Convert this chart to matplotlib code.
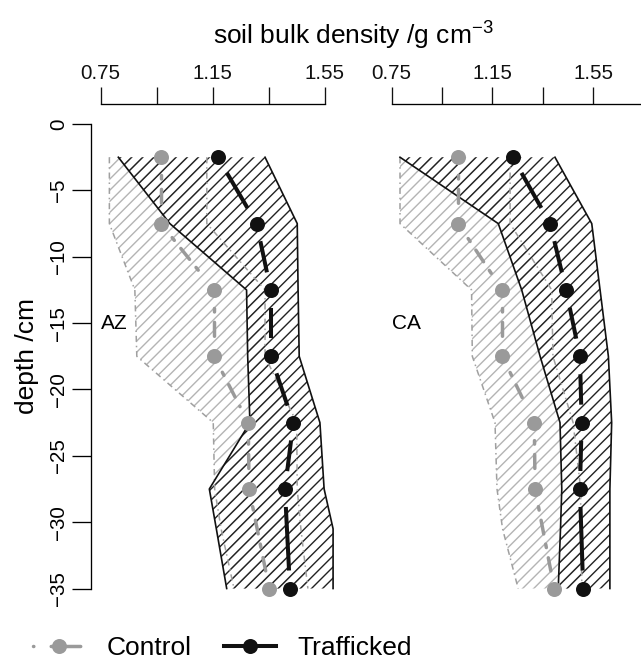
import numpy as np
import matplotlib
matplotlib.use('Agg')
import matplotlib.pyplot as plt
from matplotlib.lines import Line2D

plt.rcParams['font.family'] = ['Liberation Sans', 'DejaVu Sans']
plt.rcParams['mathtext.default'] = 'regular'
plt.rcParams['hatch.linewidth'] = 1.0

# depths of the sampled layers (cm) and of the range envelopes
DEPTH = [-2.5, -7.5, -12.5, -17.5, -22.5, -27.5, -35]
BOUND_DEPTH = [-2.5, -7.5, -12.5, -17.5, -22.5, -27.5, -30.5, -35]

# AZ site, mean bulk density
AZ_CONTROL = [0.965, 0.965, 1.155, 1.155, 1.277, 1.280, 1.352]
AZ_TRAFFIC = [1.168, 1.307, 1.357, 1.357, 1.438, 1.408, 1.426]
# AZ ranges
AZ_CONTROL_LO = [0.781, 0.781, 0.872, 0.879, 1.152, 1.157, 1.180, 1.226]
AZ_CONTROL_HI = [1.129, 1.129, 1.337, 1.337, 1.450, 1.452, 1.465, 1.490]
AZ_TRAFFIC_LO = [0.813, 0.997, 1.271, 1.275, 1.283, 1.138, 1.163, 1.200]
AZ_TRAFFIC_HI = [1.337, 1.452, 1.455, 1.459, 1.533, 1.548, 1.580, 1.580]

# CA site
CA_CONTROL = [1.014, 1.014, 1.189, 1.189, 1.316, 1.319, 1.395]
CA_TRAFFIC = [1.230, 1.379, 1.442, 1.497, 1.504, 1.497, 1.510]
CA_CONTROL_LO = [0.783, 0.783, 1.067, 1.070, 1.160, 1.168, 1.190, 1.252]
CA_CONTROL_HI = [1.220, 1.220, 1.385, 1.390, 1.470, 1.500, 1.500, 1.505]
CA_TRAFFIC_LO = [0.783, 1.173, 1.266, 1.339, 1.418, 1.425, 1.420, 1.411]
CA_TRAFFIC_HI = [1.398, 1.544, 1.577, 1.610, 1.623, 1.616, 1.616, 1.616]

X_TICKS = [0.75, 0.95, 1.15, 1.35, 1.55, 1.75]
X_TICK_LABELS = ['0.75', '', '1.15', '', '1.55', '']
Y_TICKS = [0, -5, -10, -15, -20, -25, -30, -35]

GRAY = '#9a9a9a'
LIGHT = '#b4b4b4'
BLACK = '#111111'
GAP = 18  # px left free around each point (type "b" lines)
DOTDASH = (0, (1, 3, 4, 3))
HATCH = '///'


def gapped_line(ax, x, y, **kw):
    pts = ax.transData.transform(np.column_stack([x, y]))
    inv = ax.transData.inverted()
    for p0, p1 in zip(pts[:-1], pts[1:]):
        d = p1 - p0
        length = np.hypot(*d)
        if length <= 2 * GAP:
            continue
        u = d / length
        a = inv.transform(p0 + u * GAP)
        b = inv.transform(p1 - u * GAP)
        ax.plot([a[0], b[0]], [a[1], b[1]], **kw)


def setup_axes(rect, xlim, n_ticks):
    ax = fig.add_axes(rect)
    ax.xaxis.set_ticks_position('top')
    ax.set_xticks(X_TICKS[:n_ticks])
    ax.set_xticklabels(X_TICK_LABELS[:n_ticks])
    ax.set_xlim(*xlim)
    ax.set_ylim(-36.5, 0.5)
    ax.set_autoscale_on(False)
    ax.spines['top'].set_position(('outward', 9.6))
    ax.spines['top'].set_linewidth(0.95)
    ax.spines['right'].set_visible(False)
    ax.spines['bottom'].set_visible(False)
    ax.tick_params(axis='x', direction='out', length=12.5, width=0.95,
                   labelsize=14.8, pad=3, colors='#111111')
    return ax


def draw_panel(ax, name, control, traffic, c_lo, c_hi, t_lo, t_hi):
    ax.fill_betweenx(BOUND_DEPTH, c_lo, c_hi, facecolor='none', edgecolor=LIGHT,
                     hatch=HATCH, linewidth=0, zorder=1)
    ax.fill_betweenx(BOUND_DEPTH, t_lo, t_hi, facecolor='none', edgecolor='#222222',
                     hatch=HATCH, linewidth=0, zorder=2)
    for b in (c_lo, c_hi):
        ax.plot(b, BOUND_DEPTH, color='#a0a0a0', lw=1.1,
                linestyle=(0, (4, 2.5, 1, 2.5)), zorder=3)
    for b in (t_lo, t_hi):
        ax.plot(b, BOUND_DEPTH, color=BLACK, lw=1.2, zorder=4)

    gapped_line(ax, control, DEPTH, color=GRAY, lw=2.5, linestyle=DOTDASH,
                dash_capstyle='round', zorder=5)
    gapped_line(ax, traffic, DEPTH, color=BLACK, lw=2.9, solid_capstyle='butt', zorder=6)
    ax.plot(control, DEPTH, 'o', color=GRAY, ms=10.8, mew=0, zorder=7)
    ax.plot(traffic, DEPTH, 'o', color=BLACK, ms=10.8, mew=0, zorder=8)

    ax.text(0.75, -15, name, ha='left', va='center', fontsize=15)


fig = plt.figure(figsize=(6.41, 6.68), dpi=100)

ax1 = setup_axes([0.1418, 0.0892, 0.4084, 0.7350], (0.715, 1.65), 5)
ax1.spines['top'].set_bounds(0.75, 1.55)
ax1.set_yticks(Y_TICKS)
ax1.set_yticklabels([str(v).replace('-', '\u2212') for v in Y_TICKS],
                    rotation=90, va='center')
ax1.set_ylim(-36.5, 0.5)
ax1.spines['left'].set_bounds(-35, 0)
ax1.spines['left'].set_linewidth(0.95)
ax1.tick_params(axis='y', direction='out', length=13.5, width=0.95,
                labelsize=14.8, pad=3)

ax2 = setup_axes([0.5973, 0.0892, 0.4265, 0.7350], (0.715, 1.80), 6)
ax2.spines['top'].set_bounds(0.75, 1.80)
ax2.spines['left'].set_visible(False)
ax2.set_yticks([])
ax2.set_ylim(-36.5, 0.5)

draw_panel(ax1, 'AZ', AZ_CONTROL, AZ_TRAFFIC,
           AZ_CONTROL_LO, AZ_CONTROL_HI, AZ_TRAFFIC_LO, AZ_TRAFFIC_HI)
draw_panel(ax2, 'CA', CA_CONTROL, CA_TRAFFIC,
           CA_CONTROL_LO, CA_CONTROL_HI, CA_TRAFFIC_LO, CA_TRAFFIC_HI)

fig.text(0.551, 1 - 45 / 668, 'soil bulk density /g cm$^{\u22123}$',
         ha='center', va='baseline', fontsize=19)
fig.text(27 / 641, 1 - 356 / 668, 'depth /cm', rotation=90,
         ha='center', va='center', fontsize=19)

handles = [
    Line2D([], [], color=GRAY, lw=2.5, linestyle=(0, (0.1, 5, 8.5, 10)),
           dash_capstyle='round', marker='o', ms=10.8, mew=0),
    Line2D([], [], color=BLACK, lw=2.9, marker='o', ms=10.8, mew=0),
]
fig.legend(handles, ['Control', 'Trafficked'], loc='center left',
           bbox_to_anchor=(33 / 641, 1 - 648 / 668), ncol=2, frameon=False,
           fontsize=19, handlelength=2.0, handletextpad=0.8,
           columnspacing=1.2, borderpad=0, borderaxespad=0)

fig.savefig('out.png', dpi=100)
